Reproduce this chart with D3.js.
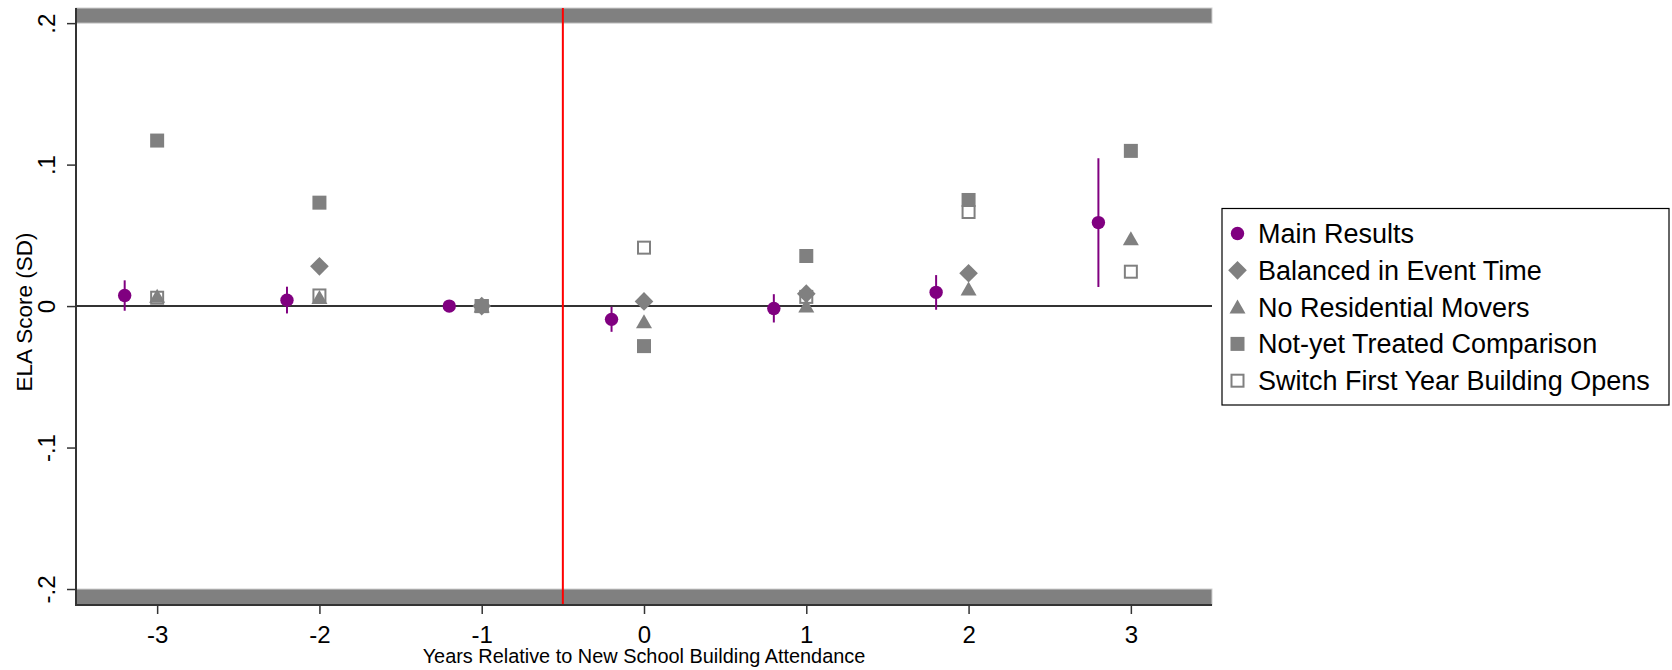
<!DOCTYPE html>
<html>
<head>
<meta charset="utf-8">
<script src="https://cdn.jsdelivr.net/npm/d3@7"></script>
<style>
  body { margin: 0; background: #fff; }
  text { font-family: "Liberation Sans", Arial, sans-serif; fill: #000; }
</style>
</head>
<body>
<svg id="chart"></svg>
<script>
const width = 1672
const height = 670

// event time
const years = [-3, -2, -1, 0, 1, 2, 3]
// main results (point estimate + 95% CI)
const mainEst = [0.0075, 0.0042, 0, -0.0094, -0.0017, 0.0097, 0.059]
const mainLo = [-0.0033, -0.0052, 0, -0.0182, -0.0116, -0.0026, 0.0135]
const mainHi = [0.0182, 0.0137, 0, -0.0005, 0.0084, 0.0219, 0.1045]
// robustness checks
const balanced = [null, 0.0281, 0, 0.0033, 0.0088, 0.0232, null]
const noMovers = [0.007, 0.006, 0, -0.011, 0.0, 0.012, 0.0476]
const notYet = [0.117, 0.0731, 0, -0.0283, 0.0354, 0.075, 0.1097]
const switchFirst = [0.0059, 0.0075, 0, 0.0413, 0.0065, 0.0665, 0.0243]

const yTicks = [-0.2, -0.1, 0, 0.1, 0.2]
const legendLabels = ['Main Results', 'Balanced in Event Time', 'No Residential Movers', 'Not-yet Treated Comparison', 'Switch First Year Building Opens']

const purple = '#800080'
const gray = '#808080'

const plot = { left: 76, right: 1212, top: 8, bottom: 605 }

const svg = d3.select('#chart').attr('width', width).attr('height', height)

const x = d3.scaleLinear().domain([-3.5, 3.5]).range([plot.left, plot.right])
const y = d3.scaleLinear().domain([-0.2113, 0.2107]).range([plot.bottom, plot.top])

// gray bands beyond +/- .2
svg.append('rect')
  .attr('x', plot.left).attr('width', plot.right - plot.left)
  .attr('y', y(y.domain()[1])).attr('height', y(0.2) - y(y.domain()[1]))
  .attr('fill', gray).attr('stroke', '#d0d0d0').attr('stroke-width', 1)
svg.append('rect')
  .attr('x', plot.left).attr('width', plot.right - plot.left)
  .attr('y', y(-0.2)).attr('height', y(y.domain()[0]) - y(-0.2))
  .attr('fill', gray).attr('stroke', '#d0d0d0').attr('stroke-width', 1)

// zero line
svg.append('line')
  .attr('x1', plot.left).attr('x2', plot.right)
  .attr('y1', y(0)).attr('y2', y(0))
  .attr('stroke', '#333').attr('stroke-width', 2)

// treatment line
svg.append('line')
  .attr('x1', x(-0.5)).attr('x2', x(-0.5))
  .attr('y1', plot.top).attr('y2', plot.bottom)
  .attr('stroke', '#ff0000').attr('stroke-width', 2)

// axes
const yAxis = d3.axisLeft(y).tickValues(yTicks).tickSize(9)
  .tickFormat(d => d === 0 ? '0' : d3.format('.1f')(d).replace('\u2212', '-').replace('0.', '.'))
const gy = svg.append('g').attr('transform', `translate(${plot.left},0)`).call(yAxis)
gy.select('.domain').remove()
gy.selectAll('.tick line').attr('stroke', '#333').attr('stroke-width', 1.5)
gy.selectAll('.tick text')
  .attr('x', 0).attr('dy', 0)
  .attr('transform', 'translate(-21,0) rotate(-90)')
  .attr('text-anchor', 'middle')
  .style('font-size', '24px')

const xAxis = d3.axisBottom(x).tickValues(years).tickSize(9).tickFormat(d => String(d))
const gx = svg.append('g').attr('transform', `translate(0,${plot.bottom})`).call(xAxis)
gx.select('.domain').remove()
gx.selectAll('.tick line').attr('stroke', '#333').attr('stroke-width', 1.5)
gx.selectAll('.tick text').attr('y', 38).attr('dy', 0).style('font-size', '24px')

svg.append('line')
  .attr('x1', plot.left).attr('x2', plot.left)
  .attr('y1', plot.top).attr('y2', plot.bottom)
  .attr('stroke', '#333').attr('stroke-width', 2)
svg.append('line')
  .attr('x1', plot.left - 1).attr('x2', plot.right)
  .attr('y1', plot.bottom).attr('y2', plot.bottom)
  .attr('stroke', '#333').attr('stroke-width', 2)

// axis titles
svg.append('text')
  .attr('x', (plot.left + plot.right) / 2).attr('y', 663)
  .attr('text-anchor', 'middle').style('font-size', '19.9px')
  .text('Years Relative to New School Building Attendance')
svg.append('text')
  .attr('transform', `translate(32,312) rotate(-90)`)
  .attr('text-anchor', 'middle').style('font-size', '22.5px')
  .text('ELA Score (SD)')

// marker shapes
function marker(g, type) {
  if (type === 'circle') {
    g.append('circle').attr('r', 6.7).attr('fill', purple)
  } else if (type === 'diamond') {
    g.append('rect').attr('x', -6.6).attr('y', -6.6).attr('width', 13.2).attr('height', 13.2)
      .attr('transform', 'rotate(45)').attr('fill', gray)
  } else if (type === 'triangle') {
    g.append('path').attr('d', 'M0,-7.5L8,6.5L-8,6.5Z').attr('fill', gray)
  } else if (type === 'square') {
    g.append('rect').attr('x', -7).attr('y', -7).attr('width', 14).attr('height', 14).attr('fill', gray)
  } else if (type === 'hollow') {
    g.append('rect').attr('x', -6).attr('y', -6).attr('width', 12).attr('height', 12)
      .attr('fill', 'none').attr('stroke', gray).attr('stroke-width', 2)
  }
}

// main results with CIs, shifted left
const mainData = years.map((yr, i) => ({ yr: yr - 0.2, est: mainEst[i], lo: mainLo[i], hi: mainHi[i] }))
svg.append('g').selectAll('line')
  .data(mainData.filter(d => d.hi !== d.lo))
  .enter().append('line')
  .attr('x1', d => x(d.yr)).attr('x2', d => x(d.yr))
  .attr('y1', d => y(d.lo)).attr('y2', d => y(d.hi))
  .attr('stroke', purple).attr('stroke-width', 2)

const series = [
  { type: 'circle', data: mainData.map(d => ({ yr: d.yr, v: d.est })) },
  { type: 'diamond', data: years.map((yr, i) => ({ yr, v: balanced[i] })) },
  { type: 'triangle', data: years.map((yr, i) => ({ yr, v: noMovers[i] })) },
  { type: 'square', data: years.map((yr, i) => ({ yr, v: notYet[i] })) },
  { type: 'hollow', data: years.map((yr, i) => ({ yr, v: switchFirst[i] })) }
]

series.forEach(s => {
  svg.append('g').selectAll('g')
    .data(s.data.filter(d => d.v !== null))
    .enter().append('g')
    .attr('transform', d => `translate(${x(d.yr)},${y(d.v)})`)
    .each(function () { marker(d3.select(this), s.type) })
})

// legend
const legend = svg.append('g')
legend.append('rect')
  .attr('x', 1222).attr('y', 208.5).attr('width', 447).attr('height', 196.5)
  .attr('fill', '#fff').attr('stroke', '#000').attr('stroke-width', 1.2)
const rowY = d3.scaleLinear().domain([0, 4]).range([233.5, 380.7])
legendLabels.forEach((label, i) => {
  const row = legend.append('g').attr('transform', `translate(0,${rowY(i)})`)
  const m = row.append('g').attr('transform', 'translate(1237.5,0)')
  marker(m, series[i].type)
  row.append('text').attr('x', 1258).attr('y', 9.5)
    .style('font-size', '27px').text(label)
})
</script>
</body>
</html>
